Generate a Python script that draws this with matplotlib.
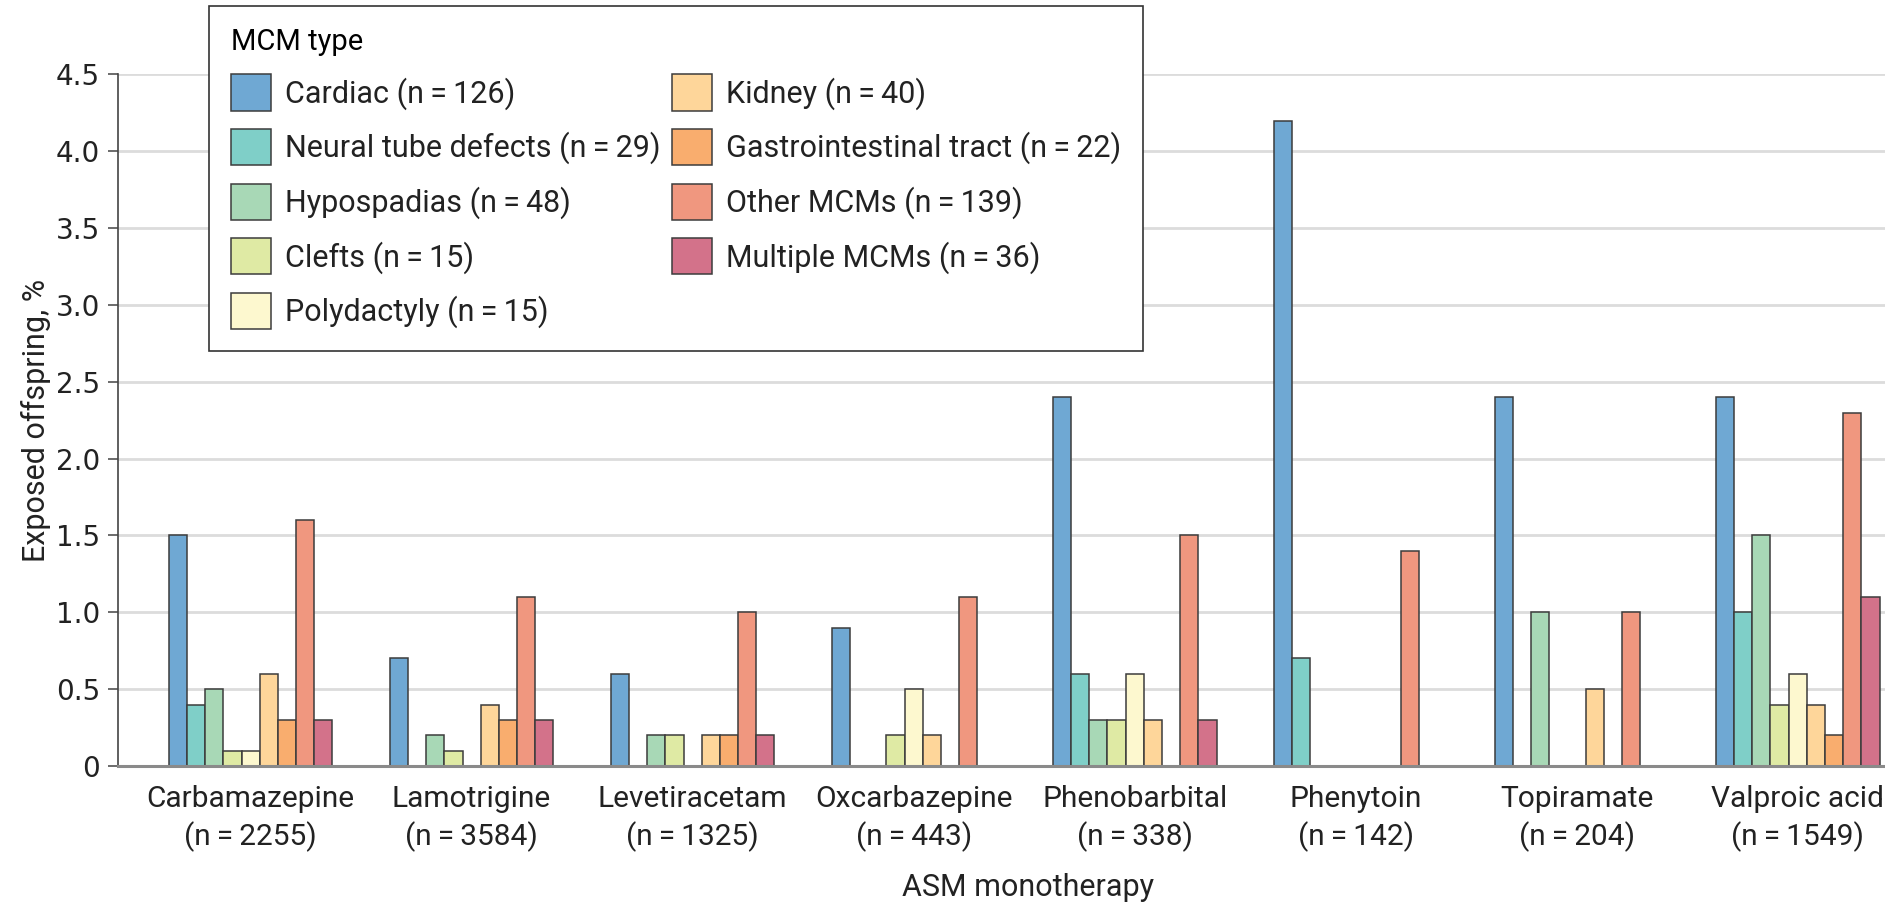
import numpy as np
import matplotlib
matplotlib.use('Agg')
import matplotlib.pyplot as plt

plt.rcParams['font.family'] = ['Roboto', 'DejaVu Sans']

ts = '\u2009'  # thin space around "="

# drugs on the x axis
drug_names = ['Carbamazepine', 'Lamotrigine', 'Levetiracetam', 'Oxcarbazepine',
              'Phenobarbital', 'Phenytoin', 'Topiramate', 'Valproic acid']
drug_n = [2255, 3584, 1325, 443, 338, 142, 204, 1549]

# MCM types (legend)
mcm_names = ['Cardiac', 'Neural tube defects', 'Hypospadias', 'Clefts',
             'Polydactyly', 'Kidney', 'Gastrointestinal tract', 'Other MCMs',
             'Multiple MCMs']
mcm_n = [126, 29, 48, 15, 15, 40, 22, 139, 36]
colors = ['#6fa8d3', '#7fcfc8', '#a8d8b6', '#dfeaa4', '#fdf8cf',
          '#fed69a', '#f9ad6e', '#f0977f', '#d3728a']

# values, % of exposed offspring; one list per MCM type, in drug order
cardiac = [1.5, 0.7, 0.6, 0.9, 2.4, 4.2, 2.4, 2.4]
neural_tube = [0.4, 0, 0, 0, 0.6, 0.7, 0, 1.0]
hypospadias = [0.5, 0.2, 0.2, 0, 0.3, 0, 1.0, 1.5]
clefts = [0.1, 0.1, 0.2, 0.2, 0.3, 0, 0, 0.4]
polydactyly = [0.1, 0, 0, 0.5, 0.6, 0, 0, 0.6]
kidney = [0.6, 0.4, 0.2, 0.2, 0.3, 0, 0.5, 0.4]
gi_tract = [0.3, 0.3, 0.2, 0, 0, 0, 0, 0.2]
other = [1.6, 1.1, 1.0, 1.1, 1.5, 1.4, 1.0, 2.3]
multiple = [0.3, 0.3, 0.2, 0, 0.3, 0, 0, 1.1]

series = [cardiac, neural_tube, hypospadias, clefts, polydactyly,
          kidney, gi_tract, other, multiple]

ytick_vals = [0, 0.5, 1.0, 1.5, 2.0, 2.5, 3.0, 3.5, 4.0, 4.5]
ytick_labels = ['0', '0.5', '1.0', '1.5', '2.0', '2.5', '3.0', '3.5',
                '4.0', '4.5']

drugs = ['{}\n(n{}={}{})'.format(d, ts, ts, k) for d, k in zip(drug_names, drug_n)]
mcm_types = ['{} (n{}={}{})'.format(m, ts, ts, k) for m, k in zip(mcm_names, mcm_n)]

fig = plt.figure(figsize=(18.85, 9.05), dpi=100)
ax = fig.add_axes([0.0626, 0.1536, 0.9374, 0.7641])

x = np.arange(len(drugs))
bw = 0.0823
n = len(series)
for i, vals in enumerate(series):
    pos = x + (i - (n - 1) / 2) * bw
    vals = np.array(vals, dtype=float)
    keep = vals > 0
    ax.bar(pos[keep], vals[keep], width=bw, color=colors[i],
           edgecolor='#3c3c3c', linewidth=1.1, label=mcm_types[i],
           zorder=3)

ax.set_xlim(-0.6, 7.395)
ax.set_ylim(0, 4.5)
ax.set_yticks(ytick_vals)
ax.set_yticklabels(ytick_labels, family='DejaVu Sans')
ax.set_xticks(x)
ax.set_xticklabels(drugs, linespacing=1.35)
ax.yaxis.grid(True, color='#dcdcdc', linewidth=2, zorder=0)
ax.set_axisbelow(True)

for s in ['top', 'right']:
    ax.spines[s].set_visible(False)
ax.spines['left'].set_color('#444444')
ax.spines['left'].set_linewidth(1.2)
ax.spines['bottom'].set_color('#8a8a8a')
ax.spines['bottom'].set_linewidth(2.2)
ax.spines['bottom'].set_zorder(4)

ax.tick_params(axis='x', length=0, pad=14, labelsize=21.5, colors='#222222')
ax.tick_params(axis='y', length=7, width=1.1, color='#444444', pad=6,
               labelsize=20, labelcolor='#222222')

ax.set_ylabel('Exposed offspring, %', fontsize=22, color='#222222',
              va='center')
ax.yaxis.set_label_coords(-0.0464, 0.5)
ax.set_xlabel('ASM monotherapy', fontsize=22, color='#222222', va='center')
ax.xaxis.set_label_coords(0.515, -0.175)

leg = ax.legend(loc='upper left', bbox_to_anchor=(0.111, 0.9934),
                bbox_transform=fig.transFigure, ncol=2, fontsize=22,
                title='MCM type', title_fontsize=21, alignment='left',
                frameon=True, fancybox=False, edgecolor='#333333',
                framealpha=1, handlelength=1.3, handleheight=1.45,
                labelspacing=0.6, columnspacing=0.4, handletextpad=0.45,
                borderpad=0.72, borderaxespad=0)
leg.get_frame().set_linewidth(1.2)
for t in leg.get_texts():
    t.set_color('#222222')

fig.savefig('out.png', dpi=100)
